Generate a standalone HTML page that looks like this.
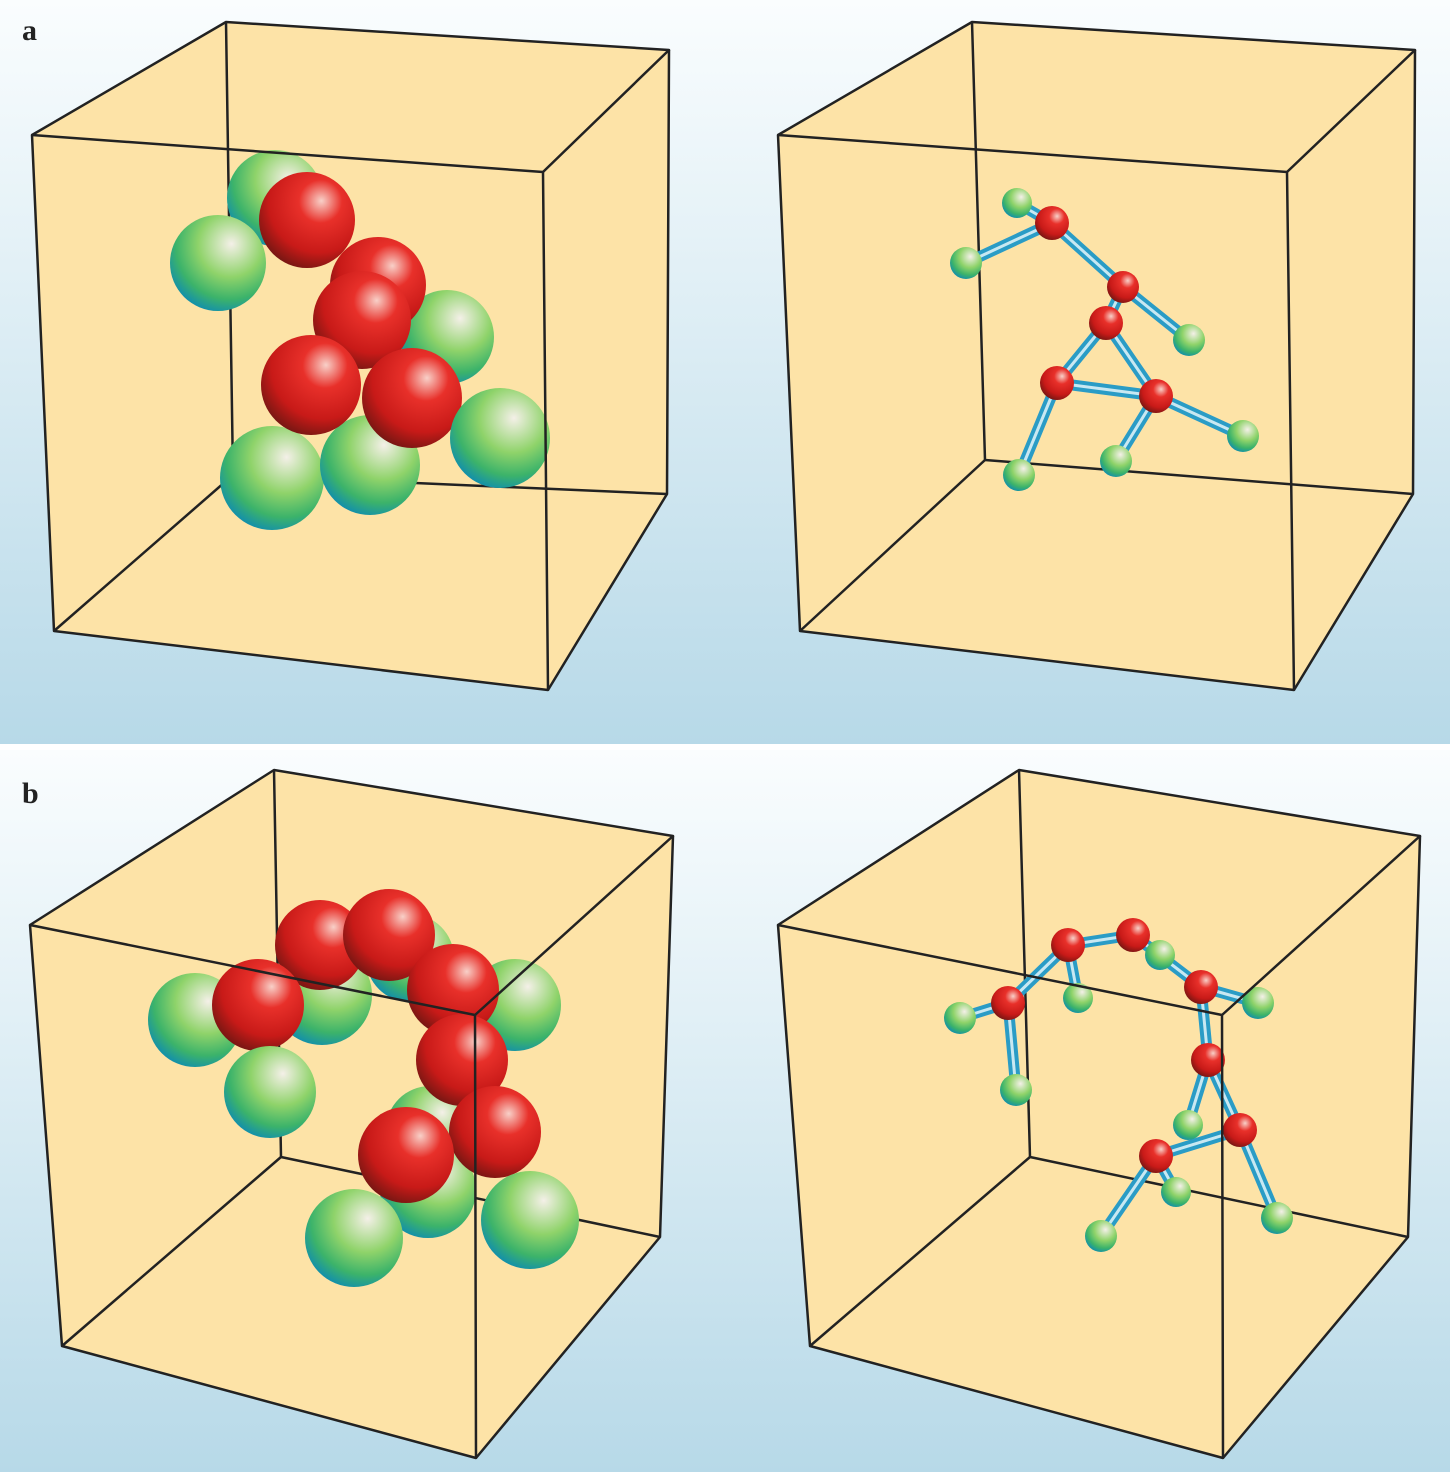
<!DOCTYPE html>
<html><head><meta charset="utf-8"><style>
html,body{margin:0;padding:0;background:#fff}
svg{display:block}
</style></head><body>
<svg width="1450" height="1472" viewBox="0 0 1450 1472" xmlns="http://www.w3.org/2000/svg">
<defs>
<linearGradient id="bg" x1="0" y1="0" x2="0" y2="1">
<stop offset="0" stop-color="#fafdfe"/><stop offset="1" stop-color="#b7d9e8"/></linearGradient>
<radialGradient id="gs" cx="0.62" cy="0.32" r="0.75" fx="0.64" fy="0.3">
<stop offset="0" stop-color="#f4f0e8"/><stop offset="0.45" stop-color="#8fd36a"/><stop offset="0.75" stop-color="#3cb36a"/><stop offset="1" stop-color="#0a88b8"/></radialGradient>
<radialGradient id="rs" cx="0.62" cy="0.32" r="0.75" fx="0.65" fy="0.3">
<stop offset="0" stop-color="#f8d0c8"/><stop offset="0.3" stop-color="#e8302a"/><stop offset="0.7" stop-color="#c81a18"/><stop offset="1" stop-color="#6a1612"/></radialGradient>
</defs>
<rect x="0" y="0" width="1450" height="744" fill="url(#bg)"/>
<rect x="0" y="750" width="1450" height="722" fill="url(#bg)"/>
<text x="22" y="40" font-family="Liberation Serif, serif" font-weight="bold" font-size="30" fill="#222">a</text>
<text x="22" y="803" font-family="Liberation Serif, serif" font-weight="bold" font-size="30" fill="#222">b</text>

<g stroke="#222" stroke-width="2.5" fill="none" stroke-linejoin="round">
<!-- cube a left -->
<polygon points="32,135 226,22 669,50 667,494 548,690 54,631" fill="#fde3a7" stroke="none"/>
<polyline points="226,22 233,475 667,494"/><line x1="233" y1="475" x2="54" y2="631"/>
<!-- cube a right -->
<polygon points="778,135 972,22 1415,50 1413,494 1294,690 800,631" fill="#fde3a7" stroke="none"/>
<polyline points="972,22 985,460 1413,494"/><line x1="985" y1="460" x2="800" y2="631"/>
<!-- cube b left -->
<polygon points="30,925 274,770 673,836 660,1237 476,1458 62,1346" fill="#fde3a7" stroke="none"/>
<polyline points="274,770 281,1157 660,1237"/><line x1="281" y1="1157" x2="62" y2="1346"/>
<!-- cube b right -->
<polygon points="778,925 1019,770 1420,836 1408,1237 1223,1458 810,1346" fill="#fde3a7" stroke="none"/>
<polyline points="1019,770 1030,1157 1408,1237"/><line x1="1030" y1="1157" x2="810" y2="1346"/>
</g>

<!-- panel a spheres -->
<g>
<circle cx="275" cy="198" r="48" fill="url(#gs)"/>
<circle cx="218" cy="263" r="48" fill="url(#gs)"/>
<circle cx="447" cy="337" r="47" fill="url(#gs)"/>
<circle cx="307" cy="220" r="48" fill="url(#rs)"/>
<circle cx="378" cy="285" r="48" fill="url(#rs)"/>
<circle cx="362" cy="320" r="49" fill="url(#rs)"/>
<circle cx="272" cy="478" r="52" fill="url(#gs)"/>
<circle cx="370" cy="465" r="50" fill="url(#gs)"/>
<circle cx="311" cy="385" r="50" fill="url(#rs)"/>
<circle cx="412" cy="398" r="50" fill="url(#rs)"/>
<circle cx="500" cy="438" r="50" fill="url(#gs)"/>
</g>

<!-- panel a network -->
<g stroke-linecap="round">
<g stroke="#2a9cc6" stroke-width="11">
<path d="M1017,203L1052,223M966,263L1052,223M1052,223L1123,287M1123,287L1189,340M1123,287L1106,323M1106,323L1057,383M1106,323L1156,396M1057,383L1156,396M1156,396L1243,436M1156,396L1116,461M1057,383L1019,475"/>
</g>
<g stroke="#c8e8f2" stroke-width="3">
<path d="M1017,203L1052,223M966,263L1052,223M1052,223L1123,287M1123,287L1189,340M1123,287L1106,323M1106,323L1057,383M1106,323L1156,396M1057,383L1156,396M1156,396L1243,436M1156,396L1116,461M1057,383L1019,475"/>
</g>
</g>
<g>
<circle cx="1017" cy="203" r="15" fill="url(#gs)"/><circle cx="966" cy="263" r="16" fill="url(#gs)"/>
<circle cx="1189" cy="340" r="16" fill="url(#gs)"/><circle cx="1243" cy="436" r="16" fill="url(#gs)"/>
<circle cx="1116" cy="461" r="16" fill="url(#gs)"/><circle cx="1019" cy="475" r="16" fill="url(#gs)"/>
<circle cx="1052" cy="223" r="17" fill="url(#rs)"/><circle cx="1123" cy="287" r="16" fill="url(#rs)"/>
<circle cx="1106" cy="323" r="17" fill="url(#rs)"/><circle cx="1057" cy="383" r="17" fill="url(#rs)"/>
<circle cx="1156" cy="396" r="17" fill="url(#rs)"/>
</g>

<!-- panel b spheres -->
<g>
<circle cx="410" cy="958" r="44" fill="url(#gs)"/>
<circle cx="322" cy="995" r="50" fill="url(#gs)"/>
<circle cx="515" cy="1005" r="46" fill="url(#gs)"/>
<circle cx="195" cy="1020" r="47" fill="url(#gs)"/>
<circle cx="430" cy="1130" r="44" fill="url(#gs)"/>
<circle cx="320" cy="945" r="45" fill="url(#rs)"/>
<circle cx="389" cy="935" r="46" fill="url(#rs)"/>
<circle cx="258" cy="1005" r="46" fill="url(#rs)"/>
<circle cx="270" cy="1092" r="46" fill="url(#gs)"/>
<circle cx="453" cy="990" r="46" fill="url(#rs)"/>
<circle cx="462" cy="1060" r="46" fill="url(#rs)"/>
<circle cx="428" cy="1190" r="48" fill="url(#gs)"/>
<circle cx="495" cy="1132" r="46" fill="url(#rs)"/>
<circle cx="406" cy="1155" r="48" fill="url(#rs)"/>
<circle cx="354" cy="1238" r="49" fill="url(#gs)"/>
<circle cx="530" cy="1220" r="49" fill="url(#gs)"/>
</g>

<!-- panel b network -->
<g stroke-linecap="round">
<g stroke="#2a9cc6" stroke-width="11">
<path d="M960,1018L1008,1003M1008,1003L1068,945M1068,945L1078,998M1068,945L1133,935M1133,935L1160,955M1133,935L1201,987M1201,987L1258,1003M1201,987L1208,1060M1008,1003L1016,1090M1208,1060L1240,1130M1208,1060L1188,1125M1240,1130L1156,1156M1156,1156L1176,1192M1156,1156L1101,1236M1240,1130L1277,1218"/>
</g>
<g stroke="#c8e8f2" stroke-width="3">
<path d="M960,1018L1008,1003M1008,1003L1068,945M1068,945L1078,998M1068,945L1133,935M1133,935L1160,955M1133,935L1201,987M1201,987L1258,1003M1201,987L1208,1060M1008,1003L1016,1090M1208,1060L1240,1130M1208,1060L1188,1125M1240,1130L1156,1156M1156,1156L1176,1192M1156,1156L1101,1236M1240,1130L1277,1218"/>
</g>
</g>
<g>
<circle cx="960" cy="1018" r="16" fill="url(#gs)"/><circle cx="1078" cy="998" r="15" fill="url(#gs)"/>
<circle cx="1160" cy="955" r="15" fill="url(#gs)"/><circle cx="1258" cy="1003" r="16" fill="url(#gs)"/>
<circle cx="1016" cy="1090" r="16" fill="url(#gs)"/><circle cx="1188" cy="1125" r="15" fill="url(#gs)"/>
<circle cx="1176" cy="1192" r="15" fill="url(#gs)"/><circle cx="1101" cy="1236" r="16" fill="url(#gs)"/>
<circle cx="1277" cy="1218" r="16" fill="url(#gs)"/>
<circle cx="1068" cy="945" r="17" fill="url(#rs)"/><circle cx="1133" cy="935" r="17" fill="url(#rs)"/>
<circle cx="1008" cy="1003" r="17" fill="url(#rs)"/><circle cx="1201" cy="987" r="17" fill="url(#rs)"/>
<circle cx="1208" cy="1060" r="17" fill="url(#rs)"/><circle cx="1240" cy="1130" r="17" fill="url(#rs)"/>
<circle cx="1156" cy="1156" r="17" fill="url(#rs)"/>
</g>

<!-- front faces on top -->
<g stroke="#222" stroke-width="2.5" fill="none" stroke-linejoin="round">
<polygon points="32,135 543,172 548,690 54,631"/><polyline points="32,135 226,22 669,50 543,172"/><polyline points="669,50 667,494 548,690"/>
<polygon points="778,135 1287,172 1294,690 800,631"/><polyline points="778,135 972,22 1415,50 1287,172"/><polyline points="1415,50 1413,494 1294,690"/>
<polygon points="30,925 475,1015 476,1458 62,1346"/><polyline points="30,925 274,770 673,836 475,1015"/><polyline points="673,836 660,1237 476,1458"/>
<polygon points="778,925 1222,1015 1223,1458 810,1346"/><polyline points="778,925 1019,770 1420,836 1222,1015"/><polyline points="1420,836 1408,1237 1223,1458"/>
</g>
</svg>
</body></html>
